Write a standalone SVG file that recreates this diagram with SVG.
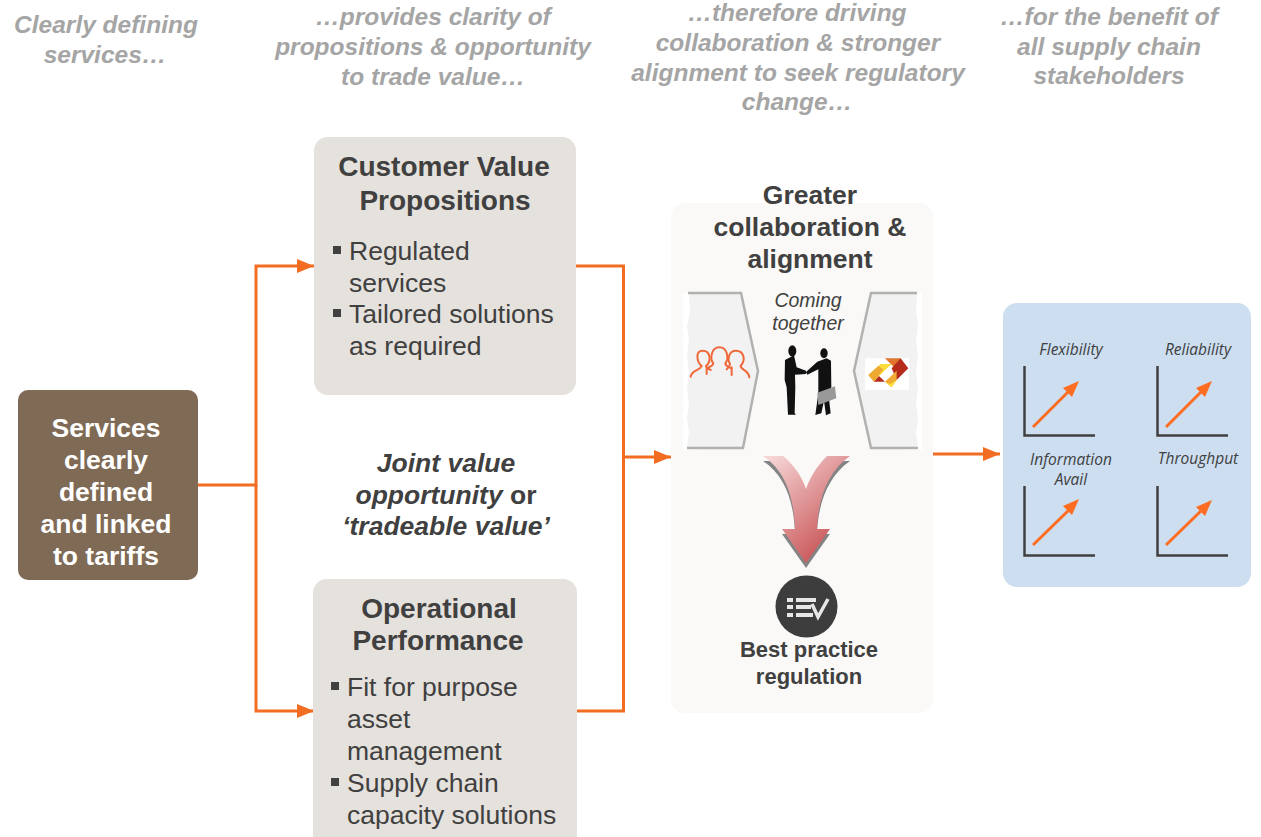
<svg xmlns="http://www.w3.org/2000/svg" width="1261" height="837" viewBox="0 0 1261 837">
<style>
text{font-family:"Liberation Sans",Arial,sans-serif;fill:#404040}
.hd{font-size:24.500px;font-weight:bold;font-style:italic;fill:#a5a5a5;text-anchor:middle}
.t{font-size:28px;font-weight:bold;text-anchor:middle}
.w{font-size:26.500px;font-weight:bold;fill:#fff;text-anchor:middle}
.b{font-size:26.500px}
.c{font-size:26.500px;font-weight:bold;text-anchor:middle}
.r{font-size:22px;font-weight:bold;text-anchor:middle}
.g{font-size:15.500px;font-style:italic;text-anchor:middle;font-family:"Open Sans",sans-serif}
.box{fill:#e5e1dc}
.conn{fill:none;stroke:#f26d21;stroke-width:3}
.ar{fill:none;stroke:#404040;stroke-width:2.500}
.up{stroke:#ff6d22;stroke-width:3;fill:none}
.sq{fill:#404040}
</style>
<defs>
<marker id="ah" markerUnits="userSpaceOnUse" markerWidth="18" markerHeight="14" refX="17" refY="7" orient="auto"><path d="M0 0L17 7L0 14Z" fill="#f26d21"/></marker>
<linearGradient id="rg" x1="0.1" y1="0" x2="0.8" y2="1"><stop offset="0" stop-color="#f6d5d6"/><stop offset="1" stop-color="#c4484a"/></linearGradient>
<path id="dn" d="M763 456H783C795 466 802 477 806 489C810 477 817 466 827 456H850C827 472 818 500 817 529H830L806 563L782 529H795C794 500 787 472 763 456Z"/>
</defs>
<g id="headers">
<text class="hd" x="106" y="33">Clearly defining</text><text class="hd" x="105" y="63">services…</text>
<text class="hd" x="433" y="25">…provides clarity of</text><text class="hd" x="433" y="55">propositions &amp; opportunity</text><text class="hd" x="433" y="85">to trade value…</text>
<text class="hd" x="797" y="21">…therefore driving</text><text class="hd" x="798" y="51">collaboration &amp; stronger</text><text class="hd" x="798" y="81">alignment to seek regulatory</text><text class="hd" x="797" y="110">change…</text>
<text class="hd" x="1109" y="25">…for the benefit of</text><text class="hd" x="1109" y="55">all supply chain</text><text class="hd" x="1109" y="84">stakeholders</text>
</g>
<g id="connectors">
<path class="conn" d="M198 485H256V266H314" marker-end="url(#ah)"/>
<path class="conn" d="M256 485V711H314" marker-end="url(#ah)"/>
<path class="conn" d="M576 266H623.500V711H576"/>
<path class="conn" d="M623.500 457H671" marker-end="url(#ah)"/>
<path class="conn" d="M932 454H1000" marker-end="url(#ah)"/>
</g>
<g id="services"><rect x="18" y="390" width="180" height="190" rx="10" fill="#7f6a55"/>
<text class="w" x="106" y="437">Services</text><text class="w" x="106" y="469">clearly</text><text class="w" x="106" y="501">defined</text><text class="w" x="106" y="533">and linked</text><text class="w" x="106" y="565">to tariffs</text></g>
<g id="cvp"><rect class="box" x="314" y="137" width="262" height="258" rx="14"/>
<text class="t" x="444" y="176">Customer Value</text><text class="t" x="445" y="210">Propositions</text>
<rect class="sq" x="333" y="246" width="8" height="8"/><rect class="sq" x="333" y="309" width="8" height="8"/>
<text class="b" x="349" y="260">Regulated</text><text class="b" x="349" y="292">services</text><text class="b" x="349" y="323">Tailored solutions</text><text class="b" x="349" y="355">as required</text></g>
<g id="joint"><text class="c" font-style="italic" x="446" y="472">Joint value</text>
<text class="c" x="446" y="504"><tspan font-style="italic">opportunity</tspan> or</text>
<text class="c" font-style="italic" x="446" y="535">‘tradeable value’</text></g>
<g id="op"><rect class="box" x="313" y="579" width="264" height="270" rx="14"/>
<text class="t" x="439" y="618">Operational</text><text class="t" x="438" y="650">Performance</text>
<rect class="sq" x="331" y="682" width="8" height="8"/><rect class="sq" x="331" y="778" width="8" height="8"/>
<text class="b" x="347" y="696">Fit for purpose</text><text class="b" x="347" y="728">asset</text><text class="b" x="347" y="760">management</text><text class="b" x="347" y="792">Supply chain</text><text class="b" x="347" y="824">capacity solutions</text></g>
<g id="collab"><rect x="671" y="203" width="262" height="510" rx="14" fill="#faf9f7"/>
<text class="c" x="810" y="204">Greater</text><text class="c" x="810" y="236">collaboration &amp;</text><text class="c" x="810" y="268">alignment</text>
<rect x="683" y="293" width="16" height="157" fill="#fff"/><rect x="904" y="293" width="18" height="157" fill="#fff"/>
<path d="M689 293H741L758 371L743 448H687L689 432L687 418L689 404L687 388L689 372L687 356L689 340L687 326L690 312Z" fill="#f2f2f2"/>
<path d="M688 293H741L758 371L743 448H687" fill="none" stroke="#b1b1af" stroke-width="2.500"/>
<path d="M917 293H871L854 371L871 448H918L916 432L918 418L916 404L918 388L916 372L918 356L916 340L918 326L916 312Z" fill="#f2f2f2"/>
<path d="M917 293H871L854 371L871 448H918" fill="none" stroke="#b1b1af" stroke-width="2.500"/>
<g transform="translate(670 280) scale(.3333)">
<g fill="none" stroke="#f0683a" stroke-width="6" stroke-linecap="round">
<path d="M62 290C65 270 90 272 95 258C80 245 75 212 98 212C122 212 125 245 108 258C108 264 115 266 122 270M110 282V266"/>
<path d="M112 264C120 260 130 258 130 250C118 235 125 202 148 202C172 202 178 235 166 250C166 258 174 260 182 264M185 285V262"/>
<path d="M170 268C175 262 180 258 180 252C172 240 175 212 198 212C222 212 228 240 212 258C212 270 236 270 238 292"/>
</g>
<rect x="585" y="235" width="132" height="95" fill="#fff"/>
<path d="M645 235H692L680 283L672 262Z" fill="#e0752e"/>
<path d="M692 235L715 265L680 300L665 265Z" fill="#b42b1b"/>
<path d="M595 285L632 252H665L627 288L612 305Z" fill="#f9dc3a"/>
<path d="M595 285L625 258L640 268L612 305Z" fill="#efa832"/>
<path d="M612 305L627 288L645 305H612Z" fill="#b52b1d"/>
<path d="M645 305L680 272V300L665 322Z" fill="#f0aa35"/>
<path d="M645 305L665 322L680 300L660 312Z" fill="#fce03a"/>
<g fill="#111">
<ellipse cx="367" cy="213" rx="12" ry="17"/>
<path d="M345 240L372 226L380 262L408 272V282L375 284L376 320L374 400L378 404H354L350 322L344 300Z"/>
<ellipse cx="462" cy="220" rx="11" ry="15"/>
<path d="M408 276L442 245L470 235L483 242L484 320L478 365L482 400L468 406L462 362L454 400L436 405L445 340L445 268L412 284Z"/>
</g>
<path d="M442 338L495 319L499 355L445 375Z" fill="#999"/>
</g>
<text font-size="19.500" font-style="italic" text-anchor="middle" x="808" y="307">Coming</text><text font-size="19.500" font-style="italic" text-anchor="middle" x="808" y="330">together</text>
<use href="#dn" transform="translate(0 5)" fill="#848484"/>
<use href="#dn" fill="url(#rg)"/>
<circle cx="806.500" cy="606.500" r="31" fill="#3d3d3d"/>
<g fill="#e6e6e6"><rect x="787" y="598" width="6" height="4"/><rect x="787" y="605" width="6" height="4"/><rect x="787" y="613" width="6" height="4"/><rect x="796" y="598" width="20" height="4"/><rect x="796" y="605" width="15" height="4"/><rect x="796" y="613" width="17" height="4"/></g>
<path d="M812 604L818 617L828 599" fill="none" stroke="#e6e6e6" stroke-width="3.500"/>
<text class="r" x="809" y="657">Best practice</text><text class="r" x="809" y="684">regulation</text></g>
<g id="benefits"><rect x="1003" y="303" width="248" height="284" rx="14" fill="#ccdef0"/>
<text class="g" x="1071" y="355">Flexibility</text><text class="g" x="1198" y="355">Reliability</text><text class="g" x="1071" y="465">Information</text><text class="g" x="1071" y="485">Avail</text><text class="g" x="1198" y="464">Throughput</text>
<path class="ar" d="M1024.500 366V435.500H1095"/><path class="ar" d="M1157.500 366V435.500H1228"/><path class="ar" d="M1024.500 486V555.500H1095"/><path class="ar" d="M1157.500 486V555.500H1228"/>
<path class="up" d="M1033 427L1070 390"/><path d="M1079 381L1072 397L1063 388Z" fill="#ff6d22"/>
<path class="up" d="M1166 427L1203 390"/><path d="M1212 381L1205 397L1196 388Z" fill="#ff6d22"/>
<path class="up" d="M1033 545L1070 509"/><path d="M1079 499L1072 515L1063 506Z" fill="#ff6d22"/>
<path class="up" d="M1166 545L1203 509"/><path d="M1212 500L1205 516L1196 507Z" fill="#ff6d22"/>
</g>
</svg>
